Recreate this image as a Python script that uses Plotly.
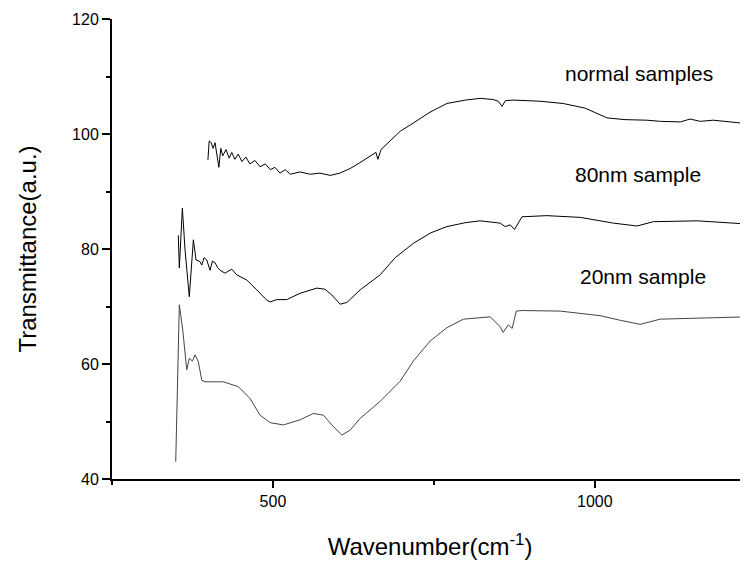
import plotly.graph_objects as go

# normal samples
normal_x = [399, 401, 404, 407, 410, 413, 416, 419, 422, 427, 432, 436, 441, 446, 452, 458,
            464, 472, 480, 488, 496, 503, 511, 519, 527, 542, 558, 573, 589, 604, 620, 635,
            651, 660, 663, 668, 682, 698, 718, 744, 770, 799, 822, 842, 850, 856, 861, 873,
            915, 951, 985, 1019, 1047, 1081, 1102, 1133, 1148, 1164, 1184, 1210, 1237]
normal_y = [95.5, 98.8, 98.5, 97.5, 98.5, 96, 94.2, 97.5, 96.2, 97.3, 95.8, 96.8, 95.6, 96.5, 95.2, 96,
            94.8, 95.4, 94.3, 94.8, 93.8, 94.2, 93.2, 93.8, 93, 93.4, 93, 93.2, 92.8, 93.2, 94, 95,
            96.2, 96.8, 95.6, 97.3, 98.8, 100.5, 101.9, 103.8, 105.3, 105.9, 106.2, 106, 105.7, 104.8, 105.8, 105.9,
            105.7, 105.3, 104.5, 102.8, 102.5, 102.4, 102.2, 102.1, 102.6, 102.2, 102.4, 102.1, 101.8]

# 80nm sample
nm80_x = [353, 354.6, 359.3, 363.5, 370.1, 376.4, 380.6, 386.8, 389.4, 393, 397.2, 402.3, 406, 410.1,
          414, 417.9, 425.6, 436, 443.8, 459.4, 474.9, 490.4, 495.6, 506, 521.5, 542.2, 568.2, 581,
          591.5, 604.4, 614.8, 635.5, 666.5, 690, 718.3, 745, 770.2, 800, 822, 853, 860.8, 868.6,
          875.3, 886.8, 925.6, 977.4, 1029, 1065.5, 1091, 1159, 1236.5]
nm80_y = [82.4, 76.7, 87.1, 79.8, 71.7, 81.6, 78.1, 77.8, 77.2, 78.5, 78.1, 76.3, 77.9, 77.6,
          76.8, 76.3, 75.8, 76.5, 75.5, 74.6, 72.9, 71.1, 70.8, 71.2, 71.2, 72.3, 73.2, 73,
          72, 70.4, 70.7, 72.9, 75.5, 78.5, 81, 82.8, 83.9, 84.6, 84.9, 84.5, 83.9, 84.2,
          83.4, 85.6, 85.8, 85.5, 84.5, 84, 84.75, 84.9, 84.35]

# 20nm sample
nm20_x = [349, 354.6, 359.9, 366.1, 370.1, 375, 379, 384.1, 389.4, 394.5, 423, 446.3, 464.5, 480,
          495.6, 516.2, 542.2, 562.9, 578.4, 594, 607, 619.9, 635.5, 666.5, 697.6, 718, 744.2, 770,
          796, 837.5, 853, 857.7, 865.5, 871.7, 878, 886.8, 946.3, 1008.5, 1039.6, 1070.6, 1101.7,
          1163.9, 1237]
nm20_y = [43.0, 70.3, 65.9, 59, 61, 60.5, 61.6, 60.4, 57.2, 56.9, 56.9, 56.05, 54, 51.1,
          49.8, 49.4, 50.3, 51.4, 51.1, 49.1, 47.65, 48.5, 50.55, 53.5, 57, 60.5, 64, 66.3,
          67.8, 68.2, 66.5, 65.5, 66.8, 66.2, 69.2, 69.3, 69.2, 68.4, 67.6, 66.9, 67.8,
          68, 68.2]

labels = ["normal samples", "80nm sample", "20nm sample"]
label_x = [1069, 1067, 1075]
label_y = [110.6, 92.9, 75.2]

font = "Liberation Sans, Arial, sans-serif"

fig = go.Figure()
fig.add_trace(go.Scatter(x=normal_x, y=normal_y, mode='lines',
                         line=dict(color='black', width=1), name=labels[0]))
fig.add_trace(go.Scatter(x=nm80_x, y=nm80_y, mode='lines',
                         line=dict(color='black', width=1), name=labels[1]))
fig.add_trace(go.Scatter(x=nm20_x, y=nm20_y, mode='lines',
                         line=dict(color='#444444', width=1), name=labels[2]))

for t, x, y in zip(labels, label_x, label_y):
    fig.add_annotation(x=x, y=y, text=t, showarrow=False,
                       font=dict(family=font, size=21, color='black'))

fig.update_xaxes(
    range=[250, 1238], dtick=500, tick0=0, automargin=False,
    showline=True, linecolor='black', linewidth=2,
    ticks='outside', ticklen=7, tickwidth=2, tickcolor='black',
    minor=dict(dtick=250, tick0=0, ticks='outside', ticklen=4, tickwidth=2, tickcolor='black'),
    showgrid=False, zeroline=False,
    tickfont=dict(family=font, size=16, color='black'),
    title=dict(text="Wavenumber(cm<sup>-1</sup>)", standoff=29,
               font=dict(family=font, size=24, color='black')),
)
fig.update_yaxes(
    range=[40, 120], dtick=20, automargin=False,
    showline=True, linecolor='black', linewidth=2,
    ticks='outside', ticklen=8, tickwidth=2, tickcolor='black',
    minor=dict(dtick=10, ticks='outside', ticklen=4, tickwidth=2, tickcolor='black'),
    showgrid=False, zeroline=False,
    tickfont=dict(family=font, size=16, color='black'),
    title=dict(text="Transmittance(a.u.)", standoff=29,
               font=dict(family=font, size=24, color='black')),
)

# the page body adds an 8px offset, so the figure is 8px smaller on both sides
fig.update_layout(
    width=740, height=558,
    margin=dict(l=104, r=0, t=11, b=87),
    plot_bgcolor='white', paper_bgcolor='white',
    showlegend=False,
)

fig.write_html("out.html")
